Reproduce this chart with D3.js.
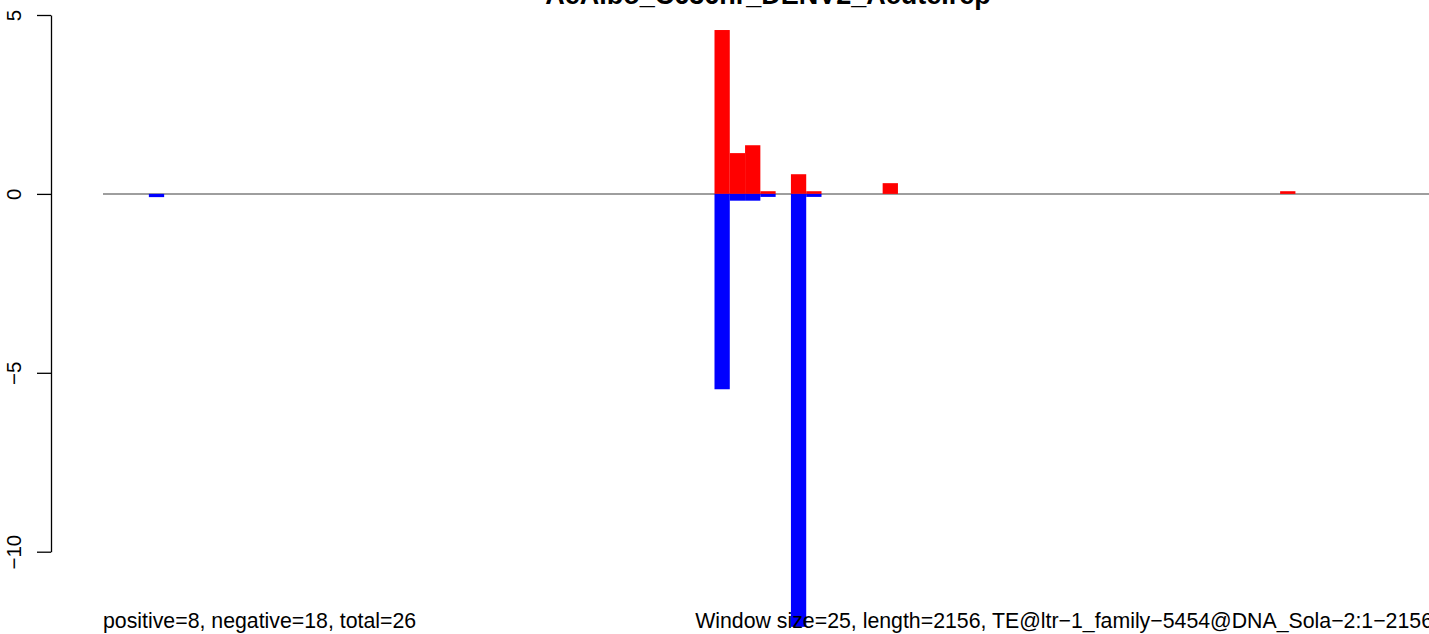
<!DOCTYPE html>
<html>
<head>
<meta charset="utf-8">
<script src="https://cdn.jsdelivr.net/npm/d3@7"></script>
<style>
  html, body { margin: 0; padding: 0; background: #fff; }
  svg { display: block; font-family: "Liberation Sans", Arial, Helvetica, sans-serif; }
</style>
</head>
<body>
<svg id="chart" width="1429" height="634"></svg>
<script>
// ---- data ----
const title = "AeAlbo_C636hr_DENV2_Acute.rep";
const windowSize = 25;
const seqLength = 2156;
const nWindows = 87;
// window indices that have signal
const windowIndex = [3, 40, 41, 42, 43, 45, 46, 51, 77];
// positive-strand (red) values per window
const positiveValues = [0, 4.58, 1.14, 1.36, 0.075, 0.55, 0.075, 0.3, 0.075];
// negative-strand (blue) values per window
const negativeValues = [-0.09, -5.46, -0.19, -0.19, -0.084, -12.1, -0.084, 0, 0];
const yTicks = [5, 0, -5, -10];
const leftNote = "positive=8, negative=18, total=26";
const rightNote = "Window size=25, length=2156, TE@ltr\u22121_family\u22125454@DNA_Sola\u22122:1\u22122156";

// ---- layout ----
const svg = d3.select("#chart");
const plotLeft = 103, plotRight = 1433;
const axisX = 51;

const x = d3.scaleLinear().domain([0, nWindows * windowSize]).range([plotLeft, plotRight]);
const y = d3.scaleLinear().domain([-10, 5]).range([551.7, 15]);

// zero reference line
svg.append("line")
  .attr("x1", x(0)).attr("x2", x(nWindows * windowSize))
  .attr("y1", y(0)).attr("y2", y(0))
  .attr("stroke", "#9e9e9e").attr("stroke-width", 2);

const rows = windowIndex.map((w, i) => ({ start: w * windowSize, pos: positiveValues[i], neg: negativeValues[i] }));

// positive bars
svg.append("g").selectAll("rect").data(rows.filter(d => d.pos > 0)).join("rect")
  .attr("x", d => x(d.start))
  .attr("width", d => x(d.start + windowSize) - x(d.start))
  .attr("y", d => y(d.pos))
  .attr("height", d => y(0) - y(d.pos))
  .attr("fill", "#ff0000");

// negative bars
svg.append("g").selectAll("rect").data(rows.filter(d => d.neg < 0)).join("rect")
  .attr("x", d => x(d.start))
  .attr("width", d => x(d.start + windowSize) - x(d.start))
  .attr("y", y(0))
  .attr("height", d => y(d.neg) - y(0))
  .attr("fill", "#0000ff");

// y axis
const yAxis = svg.append("g")
  .attr("transform", `translate(${axisX},0)`)
  .call(d3.axisLeft(y).tickValues(yTicks).tickSize(14).tickSizeOuter(0)
    .tickFormat(d => d < 0 ? "\u2212" + Math.abs(d) : String(d)));
yAxis.select(".domain").attr("stroke", "#000").attr("stroke-width", 1.3);
yAxis.selectAll(".tick line").attr("stroke", "#000").attr("stroke-width", 1.3);
yAxis.selectAll(".tick text")
  .attr("transform", "rotate(-90)")
  .attr("x", 0).attr("y", -30).attr("dy", null)
  .attr("text-anchor", "middle")
  .attr("font-size", 20.5)
  .attr("font-family", "Liberation Sans, Arial, sans-serif")
  .attr("fill", "#000");

// title
svg.append("text")
  .attr("x", (plotLeft + plotRight) / 2).attr("y", 4)
  .attr("text-anchor", "middle")
  .attr("font-size", 27).attr("font-weight", "bold")
  .text(title);

// bottom notes
svg.append("text")
  .attr("x", plotLeft).attr("y", 628)
  .attr("font-size", 21.3)
  .text(leftNote);
svg.append("text")
  .attr("x", plotRight).attr("y", 628)
  .attr("text-anchor", "end")
  .attr("font-size", 21.3)
  .text(rightNote);
</script>
</body>
</html>
